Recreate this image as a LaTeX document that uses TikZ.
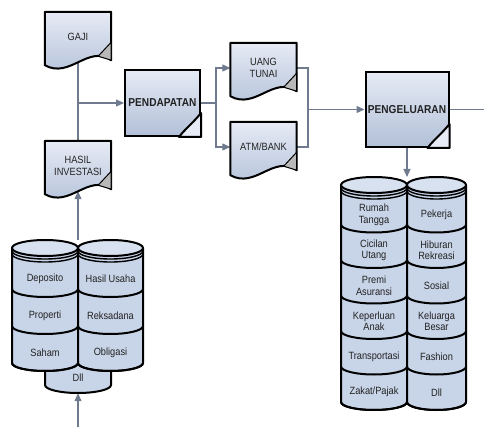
\documentclass[tikz,border=0pt]{standalone}
\usepackage{fontspec}
\setmainfont{Liberation Sans}[FakeStretch=0.88]
\usetikzlibrary{arrows.meta,calc}
\pgfdeclarelayer{back}
\pgfdeclarelayer{shape}
\pgfsetlayers{back,shape,main}
\definecolor{boxtop}{RGB}{230,235,245}
\definecolor{boxbot}{RGB}{178,192,216}
\definecolor{cylfill}{RGB}{200,212,232}
\definecolor{cyltop}{RGB}{216,225,240}
\definecolor{wirecol}{RGB}{112,122,142}
\definecolor{ink}{RGB}{34,34,34}

\begin{document}
\begin{tikzpicture}[x=1pt,y=1pt,
    doc/.style={minimum width=66pt,minimum height=50pt,inner sep=0pt,align=center,
      font=\fontsize{10.5}{12}\selectfont,text=ink},
    box/.style={draw=black,line width=2pt,top color=boxtop,bottom color=boxbot,
      inner sep=0pt,font=\fontsize{11.5}{13}\selectfont\bfseries,text=ink},
    cell/.style={align=center,inner sep=0pt,font=\fontsize{10.5}{11.5}\selectfont,text=ink},
    outline/.style={draw=black,line width=2pt,line join=round},
    ring/.style={draw=black,line width=1.4pt},
    wire/.style={draw=wirecol,line width=1.2pt},
    arr/.style={wire,-{Triangle[length=8pt,width=7pt]}}]
    \def\rh{35.5}
    \def\lh{37}
    % document with wavy bottom and turned corner
    \def\docshape#1{%
      \begin{pgfonlayer}{shape}
      \path[outline,top color=boxtop,bottom color=boxbot] (#1.north west) -- (#1.north east)
        -- ($(#1.south east)+(0,2)$) .. controls +(-23,16) and +(25,-14) .. ($(#1.south west)+(0,-3)$) -- cycle;
      \filldraw[draw=black,line width=1pt,fill=gray!55] ($(#1.south east)+(0,20)$)
        -- ($(#1.south east)+(-13,6)$) -- ($(#1.south east)+(0,2)$) -- cycle;
      \end{pgfonlayer}}
    % turned corner of a process box
    \def\boxfold#1{%
      \filldraw[outline,fill=boxtop] ($(#1.south east)+(0,24)$) .. controls +(-8,-10) and +(6,8) ..
        ($(#1.south east)+(-22,0)$) -- (#1.south east) -- cycle;}
    % one column of stacked cylinders: left x, right x, top y, row height, rows
    \def\cylcol#1#2#3#4#5{%
      \pgfmathsetmacro\cylrx{(#2-#1)/2}
      \pgfmathsetmacro\cylmx{(#1+#2)/2}
      \filldraw[outline,fill=cylfill] (#1,#3) -- (#1,#3-4-#5*#4)
        arc[start angle=180,end angle=360,x radius=\cylrx,y radius=8] -- (#2,#3) -- cycle;
      \filldraw[outline,fill=cyltop] (\cylmx,#3) ellipse[x radius=\cylrx,y radius=8];
      \foreach \k in {3,6}
        \draw[ring] (#1,#3-\k) arc[start angle=180,end angle=360,x radius=\cylrx,y radius=8];
      \foreach \k in {1,...,#5}
        \draw[outline] (#1,#3-4-\k*#4) arc[start angle=180,end angle=360,x radius=\cylrx,y radius=8];}

    \useasboundingbox (0,0) rectangle (484,-427);

    \node[box,minimum width=75pt,minimum height=66pt] (pendapatan) at (162.5,-103) {PENDAPATAN};
    \node[box,minimum width=83pt,minimum height=75pt] (pengeluaran) at (407,-109.5) {PENGELUARAN};
    \boxfold{pendapatan}
    \boxfold{pengeluaran}

    \node[doc] (gaji) at (78,-37) {GAJI};
    \node[doc] (hasil) at (78,-166) {HASIL\\INVESTASI};
    \node[doc] (tunai) at (263.5,-68) {UANG\\TUNAI};
    \node[doc] (bank) at (263.5,-147) {ATM/BANK};
    \docshape{gaji}
    \docshape{hasil}
    \docshape{tunai}
    \docshape{bank}

    % investments
    \filldraw[outline,fill=cylfill] (45,-355) -- (45,-385)
      arc[start angle=180,end angle=360,x radius=33,y radius=8] -- (111,-355) -- cycle;
    \cylcol{12}{78}{-248}{\lh}{3}
    \cylcol{78}{143}{-248}{\lh}{3}
    \node[cell] (L0_0) at (45,-278.5-0*\lh) {Deposito};
    \node[cell] (L1_0) at (45,-278.5-1*\lh) {Properti};
    \node[cell] (L2_0) at (45,-278.5-2*\lh) {Saham};
    \node[cell] (L0_1) at (110.5,-278.5-0*\lh) {Hasil Usaha};
    \node[cell] (L1_1) at (110.5,-278.5-1*\lh) {Reksadana};
    \node[cell] (L2_1) at (110.5,-278.5-2*\lh) {Obligasi};
    \node[cell,minimum height=30pt] (L3_0) at (78,-378) {Dll};

    % spending
    \cylcol{341}{407}{-185}{\rh}{6}
    \cylcol{407}{466}{-185}{\rh}{6}
    \node[cell] (R0_0) at (374,-214.75-0*\rh) {Rumah\\Tangga};
    \node[cell] (R1_0) at (374,-214.75-1*\rh) {Cicilan\\Utang};
    \node[cell] (R2_0) at (374,-214.75-2*\rh) {Premi\\Asuransi};
    \node[cell] (R3_0) at (374,-214.75-3*\rh) {Keperluan\\Anak};
    \node[cell] (R4_0) at (374,-214.75-4*\rh) {Transportasi};
    \node[cell] (R5_0) at (374,-214.75-5*\rh) {Zakat/Pajak};
    \node[cell] (R0_1) at (436.5,-214.75-0*\rh) {Pekerja};
    \node[cell] (R1_1) at (436.5,-214.75-1*\rh) {Hiburan\\Rekreasi};
    \node[cell] (R2_1) at (436.5,-214.75-2*\rh) {Sosial};
    \node[cell] (R3_1) at (436.5,-214.75-3*\rh) {Keluarga\\Besar};
    \node[cell] (R4_1) at (436.5,-214.75-4*\rh) {Fashion};
    \node[cell] (R5_1) at (436.5,-214.75-5*\rh) {Dll};

    \coordinate (split) at (216,-103);
    \coordinate (join) at (308,-109.5);
    \coordinate (out) at (484,-109.5);
    \coordinate (rtop) at (407,-177);
    \coordinate (ltop) at (78,-240);
    \coordinate (src) at (78,-427);
    \begin{pgfonlayer}{back}
    \fill[white] (0,0) rectangle (484,-427);
    \draw[wire] (gaji) -- (hasil);
    \draw[arr] (gaji |- pendapatan) -- (pendapatan);
    \draw[arr] (ltop) -- (hasil);
    \draw[arr] (src) -- (L3_0);
    \draw[wire] (pendapatan) -- (split);
    \draw[arr] (split) |- (tunai);
    \draw[arr] (split) |- (bank);
    \draw[wire] (tunai) -| (join) |- (bank);
    \draw[arr] (join) -- (pengeluaran);
    \draw[wire] (pengeluaran) -- (out);
    \draw[arr] (pengeluaran) -- (rtop);
    \end{pgfonlayer}
\end{tikzpicture}
\end{document}
